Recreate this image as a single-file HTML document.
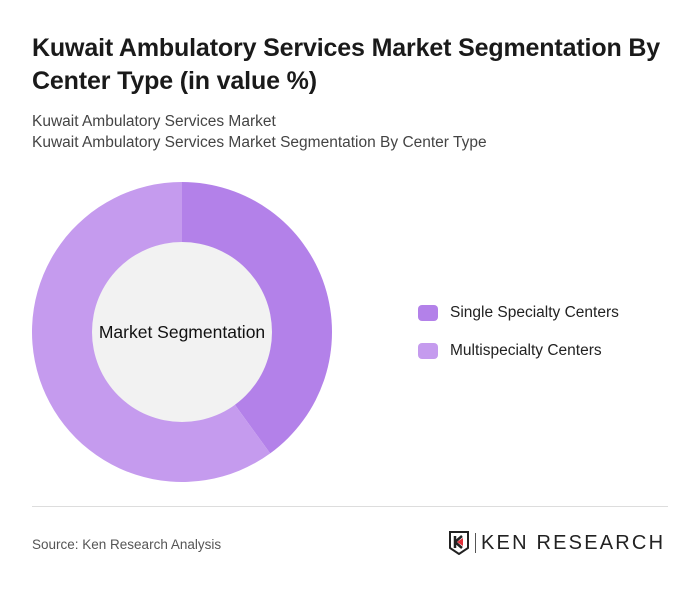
<!DOCTYPE html>
<html><head><meta charset="utf-8"><style>
body{margin:0;width:700px;height:591px;background:#fff;font-family:"Liberation Sans",sans-serif;position:relative;overflow:hidden}
.t{position:absolute;left:32px;top:32px;font-size:25px;font-weight:bold;color:#1a1a1a;line-height:33px;width:660px;letter-spacing:-0.15px}
.s{position:absolute;left:32px;font-size:15.5px;color:#444}
.leg{position:absolute;left:418px;font-size:15.5px;color:#222;display:flex;align-items:center}
.sw{width:20px;height:16px;border-radius:4px;margin-right:12px}
</style></head><body>
<div class="t">Kuwait Ambulatory Services Market Segmentation By Center Type (in value %)</div>
<div class="s" style="top:113px">Kuwait Ambulatory Services Market</div>
<div class="s" style="top:134px">Kuwait Ambulatory Services Market Segmentation By Center Type</div>
<svg id="c" width="700" height="591" style="position:absolute;left:0;top:0"></svg>
<div class="leg" style="top:304px"><div class="sw" style="background:#b381e9"></div>Single Specialty Centers</div>
<div class="leg" style="top:342px"><div class="sw" style="background:#c59bee"></div>Multispecialty Centers</div>
<div style="position:absolute;left:32px;right:32px;top:506px;border-top:1px solid #ddd"></div>
<div class="s" style="top:537px;font-size:13.5px;color:#555">Source: Ken Research Analysis</div>
<div style="position:absolute;left:448px;top:531px;display:flex;align-items:center">
<svg width="22" height="24" viewBox="0 0 22 24"><path d="M2 1h18v16l-9 6-9-6z" fill="none" stroke="#222" stroke-width="2"/><path d="M7 5v12M7 11l7-6M7 11l7 6" stroke="#222" stroke-width="2.5" fill="none"/><path d="M9 11l6-4v8z" fill="#e0303a"/></svg>
<div style="width:1px;height:20px;background:#555;margin:0 5px"></div>
<span style="font-size:20px;letter-spacing:2.2px;color:#222">KEN RESEARCH</span></div>
<script>
const categories=["Single Specialty Centers","Multispecialty Centers"];
const values=[40,60];
const colors=["#b381e9","#c59bee"];
const svg=document.getElementById('c'),NS="http://www.w3.org/2000/svg";
const cx=182,cy=332,R=150,r=90;
const total=values.reduce((a,b)=>a+b,0);
function pt(a,rad){return [cx+rad*Math.sin(a),cy-rad*Math.cos(a)];}
let a0=0;
values.forEach((v,i)=>{
const a1=a0+v/total*2*Math.PI;const lg=(a1-a0)>Math.PI?1:0;
const [x0,y0]=pt(a0,R),[x1,y1]=pt(a1,R);
const p=document.createElementNS(NS,'path');
p.setAttribute('d',`M${cx},${cy}L${x0},${y0}A${R},${R} 0 ${lg} 1 ${x1},${y1}Z`);
p.setAttribute('fill',colors[i]);


svg.appendChild(p);a0=a1;});
const c=document.createElementNS(NS,'circle');
c.setAttribute('cx',cx);c.setAttribute('cy',cy);c.setAttribute('r',r);c.setAttribute('fill','#f2f2f2');


svg.appendChild(c);
const t=document.createElementNS(NS,'text');
t.setAttribute('x',cx);t.setAttribute('y',cy+6);t.setAttribute('text-anchor','middle');t.setAttribute('font-size','17.5');t.setAttribute('fill','#111');t.setAttribute('font-family','Liberation Sans, sans-serif');
t.textContent='Market Segmentation';


svg.appendChild(t);
</script>
</body></html>
